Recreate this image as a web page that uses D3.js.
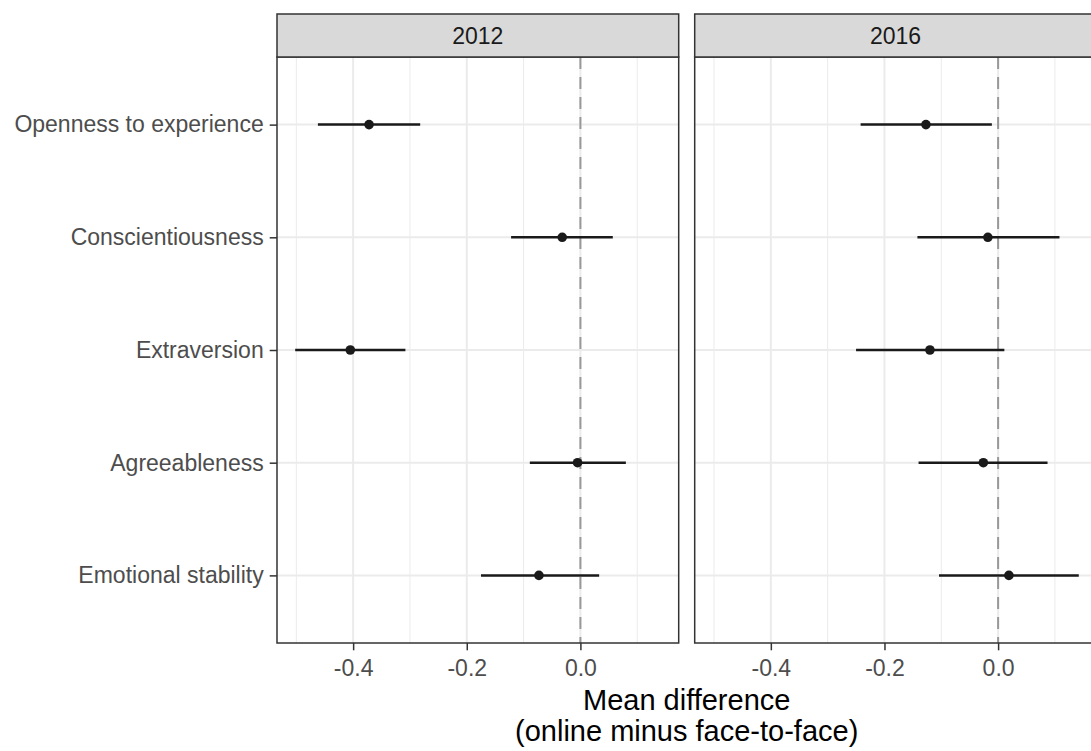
<!DOCTYPE html>
<html>
<head>
  <meta charset='utf-8'>
  <title>Mean difference by mode</title>
  <script src='https://cdn.jsdelivr.net/npm/d3@7'></script>
  <style>
    body { margin: 0; background: #fff; }
    text { font-family: 'Liberation Sans', Arial, sans-serif; }
  </style>
</head>
<body>
  <svg id='plot-area' width='1091' height='751'></svg>
  <script>
    const traits = ['Openness to experience', 'Conscientiousness', 'Extraversion',
        'Agreeableness', 'Emotional stability'];
    const years = ['2012', '2016'];
    // point estimates with lower / upper interval ends
    const est2012 = [-0.372, -0.032, -0.405, -0.005, -0.073];
    const lo2012 = [-0.462, -0.122, -0.502, -0.089, -0.175];
    const hi2012 = [-0.282, 0.057, -0.308, 0.080, 0.033];
    const est2016 = [-0.127, -0.018, -0.120, -0.026, 0.019];
    const lo2016 = [-0.242, -0.142, -0.250, -0.140, -0.104];
    const hi2016 = [-0.011, 0.108, 0.011, 0.087, 0.142];
    const xTicks = [-0.4, -0.2, 0.0];
    const xMinor = [-0.5, -0.3, -0.1, 0.1];

    const panels = [
        { year: years[0], est: est2012, lo: lo2012, hi: hi2012, left: 277 },
        { year: years[1], est: est2016, lo: lo2016, hi: hi2016, left: 694.7 }
    ];
    const panelW = 401.7;
    const panelTop = 57;
    const panelBottom = 643;
    const stripTop = 14;

    const svg = d3.select('#plot-area');
    const scaleY = d3.scalePoint()
        .domain(traits)
        .range([panelTop, panelBottom])
        .padding(0.6);

    panels.forEach((p, i) => {
        const scaleX = d3.scaleLinear()
            .domain([-0.534, 0.173])
            .range([p.left, p.left + panelW]);
        const g = svg.append('g');

        // minor and major grid
        g.selectAll('.minor').data(xMinor).enter().append('line')
            .attr('x1', (d) => scaleX(d)).attr('x2', (d) => scaleX(d))
            .attr('y1', panelTop).attr('y2', panelBottom)
            .attr('stroke', '#ebebeb').attr('stroke-width', 1);
        g.selectAll('.major').data(xTicks).enter().append('line')
            .attr('x1', (d) => scaleX(d)).attr('x2', (d) => scaleX(d))
            .attr('y1', panelTop).attr('y2', panelBottom)
            .attr('stroke', '#ebebeb').attr('stroke-width', 2);
        g.selectAll('.hgrid').data(traits).enter().append('line')
            .attr('x1', p.left).attr('x2', p.left + panelW)
            .attr('y1', (d) => scaleY(d)).attr('y2', (d) => scaleY(d))
            .attr('stroke', '#ebebeb').attr('stroke-width', 2);

        // zero reference
        g.append('line')
            .attr('x1', scaleX(0)).attr('x2', scaleX(0))
            .attr('y1', panelTop).attr('y2', panelBottom)
            .attr('stroke', '#999999').attr('stroke-width', 2)
            .attr('stroke-dasharray', '12,8');

        // intervals and points
        g.selectAll('.bar').data(traits).enter().append('line')
            .attr('x1', (d, j) => scaleX(p.lo[j]))
            .attr('x2', (d, j) => scaleX(p.hi[j]))
            .attr('y1', (d) => scaleY(d)).attr('y2', (d) => scaleY(d))
            .attr('stroke', '#1a1a1a').attr('stroke-width', 2.5);
        g.selectAll('.pt').data(traits).enter().append('circle')
            .attr('cx', (d, j) => scaleX(p.est[j]))
            .attr('cy', (d) => scaleY(d))
            .attr('r', 4.8)
            .attr('fill', '#1a1a1a');

        // panel border
        g.append('rect')
            .attr('x', p.left).attr('y', panelTop)
            .attr('width', panelW).attr('height', panelBottom - panelTop)
            .attr('fill', 'none').attr('stroke', '#333333').attr('stroke-width', 1.5);

        // strip
        g.append('rect')
            .attr('x', p.left).attr('y', stripTop)
            .attr('width', panelW).attr('height', panelTop - stripTop)
            .attr('fill', '#d9d9d9').attr('stroke', '#333333').attr('stroke-width', 1.5);
        g.append('text')
            .attr('x', p.left + panelW / 2).attr('y', (stripTop + panelTop) / 2)
            .attr('dy', '0.35em')
            .attr('text-anchor', 'middle')
            .attr('font-size', '23px').attr('fill', '#1a1a1a')
            .text(p.year);

        // x axis
        const xAxis = g.append('g')
            .attr('transform', `translate(0, ${panelBottom})`)
            .call(d3.axisBottom(scaleX).tickValues(xTicks)
                .tickFormat(d3.format('.1f')).tickSizeOuter(0).tickSize(7.3).tickPadding(9));
        xAxis.select('.domain').remove();
        xAxis.selectAll('line').attr('stroke', '#333333').attr('stroke-width', 1.5);
        xAxis.selectAll('text')
            .attr('font-size', '23px').attr('fill', '#4d4d4d')
            .attr('font-family', "'Liberation Sans', Arial, sans-serif")
            .text((d) => d3.format('.1f')(d).replace('−', '-'));

        if (i === 0) {
            const yAxis = g.append('g')
                .attr('transform', `translate(${p.left}, 0)`)
                .call(d3.axisLeft(scaleY).tickSize(7.3).tickPadding(6).tickSizeOuter(0));
            yAxis.select('.domain').remove();
            yAxis.selectAll('line').attr('stroke', '#333333').attr('stroke-width', 1.5);
            yAxis.selectAll('text')
                .attr('font-size', '23px').attr('fill', '#4d4d4d')
                .attr('font-family', "'Liberation Sans', Arial, sans-serif");
        }
    });

    // axis title
    const title = svg.append('text')
        .attr('x', (277 + 694.7 + panelW) / 2)
        .attr('text-anchor', 'middle')
        .attr('font-size', '29px').attr('fill', '#000');
    title.append('tspan').attr('x', (277 + 694.7 + panelW) / 2).attr('y', 710)
        .text('Mean difference');
    title.append('tspan').attr('x', (277 + 694.7 + panelW) / 2).attr('y', 741)
        .text('(online minus face-to-face)');
  </script>
</body>
</html>
